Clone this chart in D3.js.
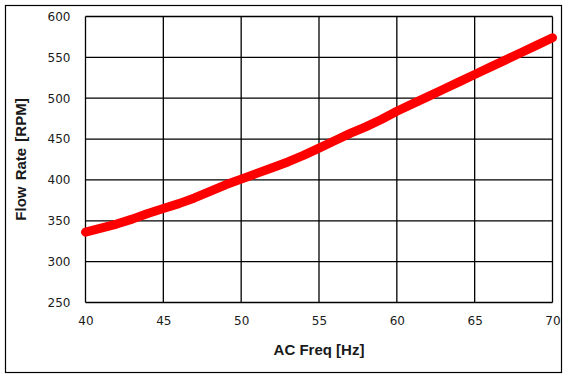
<!DOCTYPE html>
<html>
<head>
<meta charset="utf-8">
<script src="https://cdn.jsdelivr.net/npm/d3@7"></script>
<style>
  body { margin: 0; background: #fff; }
  text { fill: #1a1a1a; }
</style>
</head>
<body>
<script>
// values
var freq = [40, 41, 42, 43, 44, 45, 46, 47, 48, 49, 50, 51, 52, 53, 54, 55,
            56, 57, 58, 59, 60, 61, 62, 63, 64, 65, 66, 67, 68, 69, 70];
var flow = [336, 341, 346, 352, 359, 365, 371, 378, 386, 394, 401, 408, 415, 422, 430, 439,
            448, 457, 465, 474, 484, 493, 502, 511, 520, 529, 538, 547, 556, 565, 574];
var xTicks = [40, 45, 50, 55, 60, 65, 70];
var yTicks = [250, 300, 350, 400, 450, 500, 550, 600];
var xTitle = "AC Freq [Hz]";
var yTitle = "Flow Rate [RPM]";

var width = 568, height = 379;

var svg = d3.select("body").append("svg")
  .attr("width", width)
  .attr("height", height);

// outer frame
svg.append("rect")
  .attr("x", 5.5).attr("y", 5.5)
  .attr("width", 556).attr("height", 367)
  .attr("fill", "none")
  .attr("stroke", "#000")
  .attr("stroke-width", 1.2);

var x = d3.scaleLinear().domain([40, 70]).range([85.5, 552.5]);
var y = d3.scaleLinear().domain([250, 600]).range([302.5, 16.5]);

// grid
svg.append("g").selectAll("line.v")
  .data(xTicks)
  .enter().append("line")
  .attr("x1", function(d) { return x(d); })
  .attr("x2", function(d) { return x(d); })
  .attr("y1", y(250)).attr("y2", y(600))
  .attr("stroke", "#000").attr("stroke-width", 1.3);

svg.append("g").selectAll("line.h")
  .data(yTicks)
  .enter().append("line")
  .attr("y1", function(d) { return y(d); })
  .attr("y2", function(d) { return y(d); })
  .attr("x1", x(40)).attr("x2", x(70))
  .attr("stroke", "#000").attr("stroke-width", 1.3);

// tick labels
var yAxis = svg.append("g")
  .attr("transform", "translate(" + x(40) + ",0)")
  .call(d3.axisLeft(y).tickValues(yTicks).tickSize(0).tickPadding(15));
var xAxis = svg.append("g")
  .attr("transform", "translate(0," + y(250) + ")")
  .call(d3.axisBottom(x).tickValues(xTicks).tickSize(0).tickPadding(14));
[xAxis, yAxis].forEach(function(a) {
  a.select(".domain").remove();
  a.selectAll("text")
    .attr("fill", "#1a1a1a")
    .style("font-family", "DejaVu Sans, sans-serif")
    .style("font-size", "12px");
});

// axis titles
svg.append("text")
  .attr("x", x(55)).attr("y", 355)
  .attr("text-anchor", "middle")
  .style("font-family", "Liberation Sans, Arial, sans-serif")
  .style("font-weight", "bold")
  .style("font-size", "15px")
  .text(xTitle);

svg.append("text")
  .attr("transform", "translate(26," + y(425) + ") rotate(-90)")
  .attr("text-anchor", "middle")
  .style("font-family", "Liberation Sans, Arial, sans-serif")
  .style("font-weight", "bold")
  .style("font-size", "15px")
  .style("word-spacing", "2px")
  .text(yTitle);

// data trace
var line = d3.line()
  .x(function(d) { return x(d[0]); })
  .y(function(d) { return y(d[1]); });

svg.append("path")
  .datum(d3.zip(freq, flow))
  .attr("d", line)
  .attr("fill", "none")
  .attr("stroke", "#ff0000")
  .attr("stroke-width", 9)
  .attr("stroke-linejoin", "round")
  .attr("stroke-linecap", "round");
</script>
</body>
</html>
